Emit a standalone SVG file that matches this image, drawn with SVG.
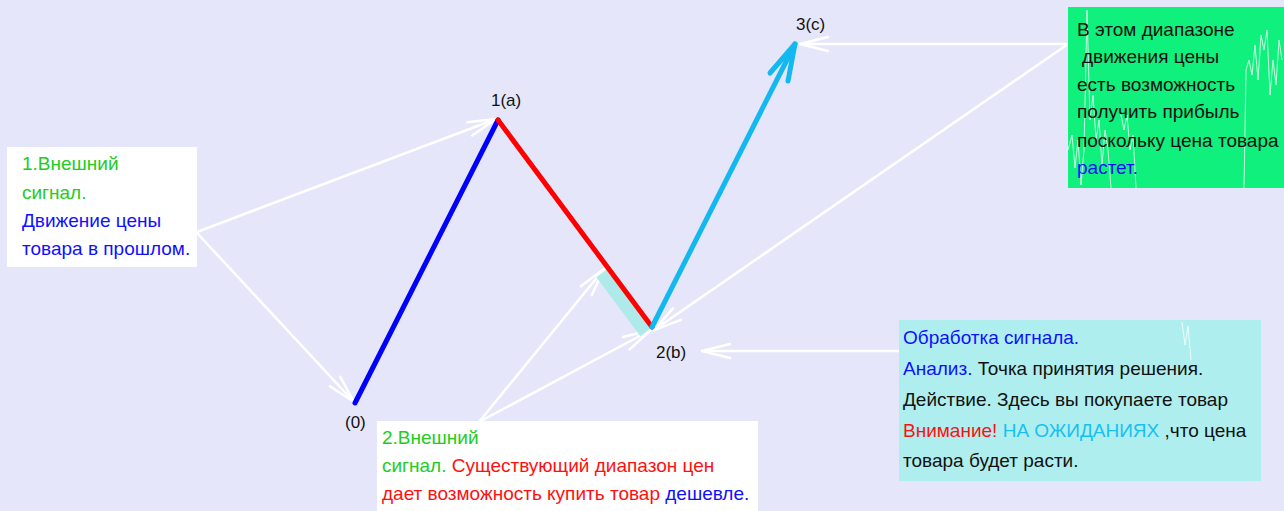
<svg xmlns="http://www.w3.org/2000/svg" width="1284" height="511" viewBox="0 0 1284 511">
<style>
  text { font-family: "Liberation Sans", Arial, sans-serif; font-size: 19px; }
  .lbl { fill: #111; font-size: 17px; }
  .g { fill: #22cc22; }
  .b { fill: #1010ff; }
  .r { fill: #ff1010; }
  .k { fill: #111; }
  .c { fill: #18c0f0; }
  .wa { stroke: #ffffff; stroke-width: 2.5; fill: none; stroke-linecap: round; marker-end: url(#wh); }
  .noise { stroke: #ffffff; stroke-width: 1; fill: none; opacity: 0.75; }
</style>
<defs>
  <marker id="wh" markerUnits="userSpaceOnUse" markerWidth="40" markerHeight="20" refX="30" refY="8" orient="auto" viewBox="0 0 40 16">
    <path d="M2,1 L30,8 L2,15" fill="none" stroke="#ffffff" stroke-width="2.5" stroke-linecap="round" stroke-linejoin="round"/>
  </marker>
</defs>
<rect width="1284" height="511" fill="#e6e6fa"/>

<g id="connectors">
  <line class="wa" x1="197" y1="232" x2="496" y2="119"/>
  <line class="wa" x1="197" y1="233" x2="354" y2="402"/>
  <line class="wa" x1="479" y1="422" x2="604" y2="269"/>
  <line class="wa" x1="479" y1="422" x2="651" y2="330"/>
  <line class="wa" x1="1068" y1="44" x2="800" y2="44"/>
  <line class="wa" x1="1068" y1="44" x2="654" y2="330"/>
  <line class="wa" x1="900" y1="351" x2="702" y2="351"/>
</g>

<g id="price-path">
  <line x1="602" y1="273" x2="646" y2="332" stroke="#aeeaea" stroke-width="14" stroke-linecap="butt"/>
  <line x1="355" y1="403" x2="498" y2="120" stroke="#0000ff" stroke-width="5" stroke-linecap="round"/>
  <line x1="498" y1="120" x2="652" y2="327" stroke="#ff0000" stroke-width="5" stroke-linecap="round"/>
  <line x1="652" y1="327" x2="795" y2="44" stroke="#12b8ef" stroke-width="5" stroke-linecap="round"/>
  <path d="M770,73 L795,44 L788,81" fill="none" stroke="#12b8ef" stroke-width="5" stroke-linecap="round" stroke-linejoin="round"/>
</g>

<g id="point-0"><text class="lbl" x="345" y="428">(0)</text></g>
<g id="point-1a"><text class="lbl" x="491" y="106">1(a)</text></g>
<g id="point-2b"><text class="lbl" x="656" y="358">2(b)</text></g>
<g id="point-3c"><text class="lbl" x="796" y="30">3(c)</text></g>

<g id="box-signal1">
  <rect x="7" y="147" width="190" height="120" fill="#ffffff"/>
  <path class="noise" d="M172,195 L175,230 L177,205 L180,250 L182,215 L184,267" opacity="0.4"/>
  <text x="22" y="170" class="g">1.Внешний</text>
  <text x="22" y="199" class="g">сигнал.</text>
  <text x="22" y="227" class="b">Движение цены</text>
  <text x="22" y="255" class="b">товара в прошлом.</text>
</g>

<g id="box-signal2">
  <rect x="377" y="421" width="381" height="90" fill="#ffffff"/>
  <text x="382" y="444" class="g">2.Внешний</text>
  <text x="382" y="472"><tspan class="g">сигнал. </tspan><tspan class="r">Существующий диапазон цен</tspan></text>
  <text x="382" y="500"><tspan class="r">дает возможность купить товар </tspan><tspan class="b">дешевле.</tspan></text>
</g>

<g id="box-processing">
  <rect x="899" y="320" width="362" height="161" fill="#afeeee"/>
  <path class="noise" d="M1182,322 L1185,345 L1188,326 L1191,360" opacity="0.6"/>
  <text x="903" y="344" class="b">Обработка сигнала.</text>
  <text x="903" y="375"><tspan class="b">Анализ.</tspan><tspan class="k"> Точка принятия решения.</tspan></text>
  <text x="903" y="406" class="k">Действие. Здесь вы покупаете товар</text>
  <text x="903" y="437"><tspan class="r">Внимание!</tspan><tspan class="c"> НА ОЖИДАНИЯХ</tspan><tspan class="k"> ,что цена</tspan></text>
  <text x="903" y="467" class="k">товара будет расти.</text>
</g>

<g id="box-profit">
  <rect x="1068" y="7" width="216" height="181" fill="#10f07c"/>
  <path class="noise" d="M1068,150 L1072,135 L1075,168 L1078,140 L1081,185 L1084,150 L1087,10 L1090,120 L1093,95 L1096,140 L1099,120 L1102,165 L1105,130 L1108,150 L1111,188"/>
  <path class="noise" d="M1120,110 L1124,130 L1127,115 L1130,150 L1133,135 L1136,188"/>
  <path class="noise" d="M1244,188 L1246,70 L1249,60 L1252,75 L1255,45 L1258,80 L1261,35 L1264,50 L1267,30 L1270,95 L1273,60 L1276,85 L1279,40 L1282,60"/>
  <text x="1077" y="36" class="k">В этом диапазоне</text>
  <text x="1082" y="63" class="k">движения цены</text>
  <text x="1077" y="91" class="k">есть возможность</text>
  <text x="1077" y="118" class="k">получить прибыль</text>
  <text x="1077" y="147" class="k">поскольку цена товара</text>
  <text x="1077" y="174" class="b">растет.</text>
</g>
</svg>
